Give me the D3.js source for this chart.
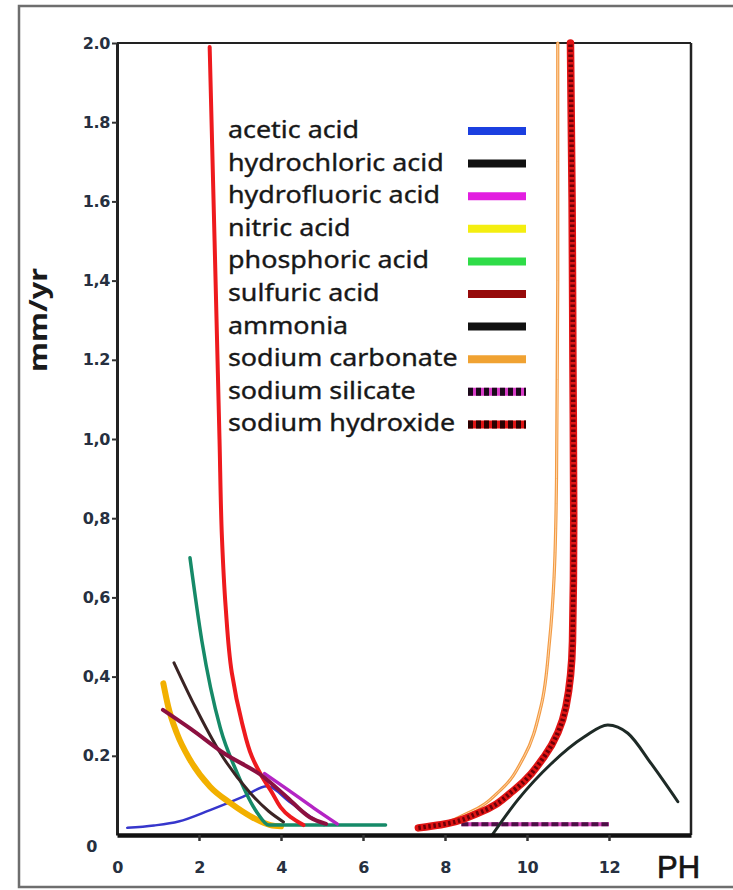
<!DOCTYPE html>
<html>
<head>
<meta charset="utf-8">
<script src="https://cdn.jsdelivr.net/npm/d3@7"></script>
<style>
  html, body { margin: 0; padding: 0; background: #fff; }
  svg { display: block; }
</style>
</head>
<body>
<svg id="chart" width="733" height="890"></svg>
<script>
// ---------- data ----------
const xTickValues = [0, 2, 4, 6, 8, 10, 12];
const xTickLabels = ["0", "2", "4", "6", "8", "10", "12"];
const yTickValues = [0, 0.2, 0.4, 0.6, 0.8, 1.0, 1.2, 1.4, 1.6, 1.8, 2.0];
const yTickLabels = ["0", "0.2", "0,4", "0,6", "0,8", "1,0", "1.2", "1,4", "1.6", "1.8", "2.0"];
const xTitle = "PH";
const yTitle = "mm/yr";

const legendNames = ["acetic acid", "hydrochloric acid", "hydrofluoric acid", "nitric acid",
  "phosphoric acid", "sulfuric acid", "ammonia", "sodium carbonate", "sodium silicate", "sodium hydroxide"];
const legendColors = ["#1b3fe0", "#111111", "#e21ee0", "#f4ee10", "#2fdc48", "#960a0a",
  "#111111", "#f0a232", "#d83cc8", "#e01414"];
const legendDashColors = [null, null, null, null, null, null, null, null, "#1a0a1a", "#2a0000"];

// curves: [pH, mm/yr]
const aceticAcid = [[0.25, 0.018], [0.9, 0.024], [1.5, 0.034], [2.27, 0.063], [3.08, 0.097], [3.66, 0.123], [4.23, 0.082], [4.72, 0.046], [5.05, 0.025]];
const hydrochloricAcid = [[1.39, 0.435], [1.9, 0.325], [2.52, 0.207], [3.25, 0.106], [3.7, 0.06], [4.06, 0.033]];
const hydrofluoricAcid = [[3.6, 0.155], [4.2, 0.112], [4.8, 0.068], [5.37, 0.028]];
const nitricAcid = [[1.13, 0.383], [1.25, 0.324], [1.46, 0.257], [1.78, 0.19], [2.27, 0.122], [2.76, 0.081], [3.33, 0.043], [3.74, 0.025], [4.0, 0.022]];
const phosphoricAcid = [[1.78, 0.70], [2.07, 0.49], [2.52, 0.27], [2.93, 0.157], [3.42, 0.056], [3.7, 0.025], [5.0, 0.025], [6.55, 0.025]];
const sulfuricAcid = [[1.12, 0.316], [1.8, 0.268], [2.6, 0.207], [3.57, 0.147], [4.1, 0.1], [4.7, 0.045], [5.1, 0.028]];
const strongAcid = [[4.55, 0.025], [4.23, 0.046], [3.74, 0.114], [3.29, 0.198], [3.05, 0.283], [2.8, 0.41], [2.65, 0.576], [2.56, 0.75], [2.5, 1.0], [2.38, 1.5], [2.26, 1.99]];
const ammonia = [[9.15, 0.0], [9.77, 0.088], [10.59, 0.18], [11.4, 0.248], [11.97, 0.278], [12.46, 0.257], [13.03, 0.18], [13.68, 0.084]];
const sodiumCarbonate = [[7.4, 0.02], [7.57, 0.021], [8.55, 0.055], [9.36, 0.114], [9.93, 0.198], [10.34, 0.324], [10.55, 0.49], [10.66, 0.65], [10.72, 0.9], [10.75, 1.4], [10.75, 2.0]];
const sodiumSilicate = [[8.4, 0.027], [12.0, 0.027]];
const sodiumHydroxide = [[7.35, 0.018], [7.9, 0.026], [8.8, 0.055], [9.69, 0.114], [10.42, 0.198], [10.95, 0.324], [11.11, 0.49], [11.14, 0.8], [11.12, 1.2], [11.1, 1.6], [11.06, 2.0]];

// ---------- layout ----------
const svg = d3.select("#chart");
const pLeft = 117, pRight = 691, pTop = 43, pBottom = 835;
const x = d3.scaleLinear().domain([0, 14]).range([pLeft, pRight]);
const y = d3.scaleLinear().domain([0, 2]).range([pBottom, pTop]);

// outer frame
svg.append("rect").attr("x", 19).attr("y", 6).attr("width", 740).attr("height", 881)
  .attr("fill", "#fff").attr("stroke", "#6e6e6e").attr("stroke-width", 2.5);

// plot box (top & right)
svg.append("line").attr("x1", pLeft).attr("x2", pRight).attr("y1", pTop).attr("y2", pTop)
  .attr("stroke", "#222").attr("stroke-width", 2);
svg.append("line").attr("x1", pRight).attr("x2", pRight).attr("y1", pTop).attr("y2", pBottom)
  .attr("stroke", "#222").attr("stroke-width", 2.5);

// ---------- curves ----------
const lineX = d3.line().x(d => x(d[0])).y(d => y(d[1])).curve(d3.curveMonotoneX);
const lineY = d3.line().x(d => x(d[0])).y(d => y(d[1])).curve(d3.curveMonotoneY);
const g = svg.append("g").attr("fill", "none");

function draw(data, gen, color, width, dash, cap) {
  g.append("path").attr("d", gen(data)).attr("stroke", color).attr("stroke-width", width)
    .attr("stroke-dasharray", dash || null).attr("stroke-linecap", cap || "round");
}

draw(aceticAcid, lineX, "#3636cc", 2.5);
draw(nitricAcid, lineX, "#f2b000", 6);
draw(phosphoricAcid, lineX, "#168a68", 3.5);
draw(strongAcid, lineY, "#ee1a1e", 4);
draw(hydrofluoricAcid, lineX, "#b424c4", 3.5);
draw(hydrochloricAcid, lineX, "#3a2424", 3);
draw(sulfuricAcid, lineX, "#8c1040", 4);
draw(sodiumSilicate, lineX, "#d640b8", 4, null, "butt");
draw(sodiumSilicate, lineX, "#4a1044", 4, "7,3", "butt");
draw(ammonia, lineX, "#1e2a26", 3);
draw(sodiumCarbonate, lineY, "#f29a44", 3.2);
draw(sodiumCarbonate, lineY, "#ffd6a8", 1);
draw(sodiumHydroxide, lineY, "#e01414", 7.5);
draw(sodiumHydroxide, lineY, "#6e0008", 4.5, "2.5,2.5", "butt");

// ---------- axes ----------
const tickFont = sel => sel.attr("fill", "#263040").attr("font-family", "DejaVu Sans")
  .attr("font-weight", "bold").attr("font-size", 16).attr("letter-spacing", -0.4);

const yAxis = d3.axisLeft(y).tickValues(yTickValues)
  .tickFormat((d, i) => yTickLabels[i]).tickSize(5).tickSizeOuter(0).tickPadding(2);
const yg = svg.append("g").attr("transform", `translate(${pLeft},0)`).call(yAxis);
yg.select(".domain").attr("stroke", "#222").attr("stroke-width", 3);
yg.selectAll(".tick line").attr("stroke", "#333").attr("stroke-width", 2);
yg.selectAll(".tick text").call(tickFont);
yg.selectAll(".tick").filter(d => d === 0).select("line").remove();
yg.selectAll(".tick").filter(d => d === 0).select("text").attr("dy", "1.0em").attr("x", -20);

const xAxis = d3.axisBottom(x).tickValues(xTickValues)
  .tickFormat((d, i) => xTickLabels[i]).tickSize(6).tickSizeOuter(0).tickPadding(21);
const xg = svg.append("g").attr("transform", `translate(0,${pBottom})`).call(xAxis);
xg.select(".domain").attr("stroke", "#111").attr("stroke-width", 4.5);
xg.selectAll(".tick line").attr("stroke", "#333").attr("stroke-width", 2.5);
xg.selectAll(".tick").filter(d => d === 0).select("line").remove();
xg.selectAll(".tick text").call(tickFont);

// titles
svg.append("text").attr("x", 657).attr("y", 878).text(xTitle)
  .attr("font-family", "Liberation Sans").attr("font-size", 31).attr("fill", "#151515")
  .attr("stroke", "#151515").attr("stroke-width", 0.7);
svg.append("text").attr("transform", "translate(47,320) rotate(-90)").attr("text-anchor", "middle")
  .attr("font-family", "Noto Sans").attr("font-weight", "bold").attr("font-size", 25)
  .attr("textLength", 104).attr("lengthAdjust", "spacingAndGlyphs")
  .attr("fill", "#1a1a1a").text(yTitle);

// ---------- legend ----------
const legendTop = 130, legendStep = 32.6;
const lg = svg.append("g");
legendNames.forEach((name, i) => {
  const cy = legendTop + i * legendStep;
  lg.append("text").attr("transform", `translate(228,${cy + 8}) scale(1.12,1)`)
    .attr("font-family", "Noto Sans").attr("font-size", 24).attr("fill", "#181818")
    .attr("stroke", "#181818").attr("stroke-width", 0.35).text(name);
  lg.append("line").attr("x1", 468).attr("x2", 526).attr("y1", cy + 1).attr("y2", cy + 1)
    .attr("stroke", legendColors[i]).attr("stroke-width", 8);
  if (legendDashColors[i]) {
    lg.append("line").attr("x1", 468).attr("x2", 526).attr("y1", cy + 1).attr("y2", cy + 1)
      .attr("stroke", legendDashColors[i]).attr("stroke-width", 8).attr("stroke-dasharray", "5,3");
  }
});
</script>
</body>
</html>
